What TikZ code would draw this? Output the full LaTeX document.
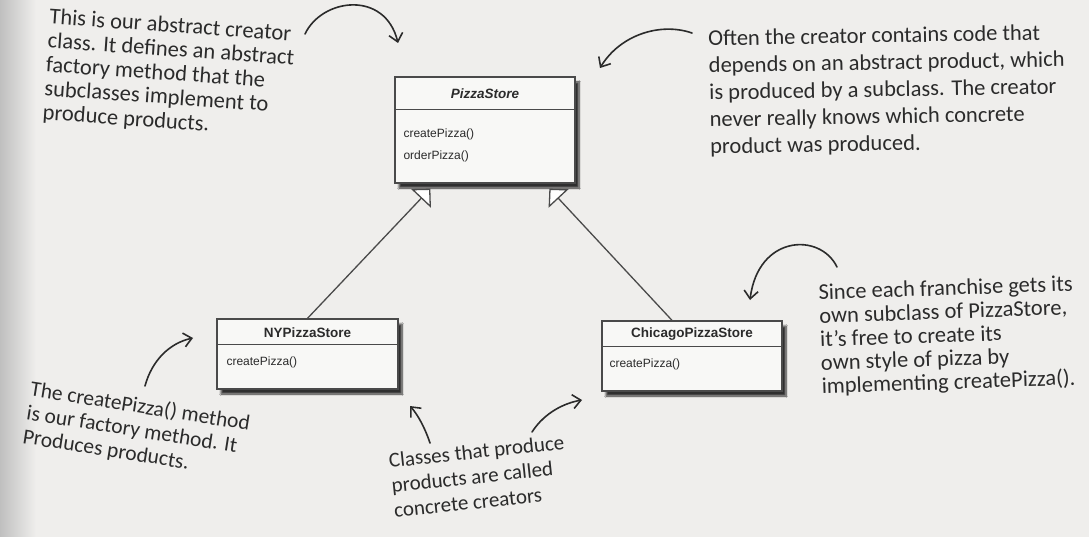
\documentclass[tikz,border=0pt]{standalone}
\usepackage{fontspec}
\setmainfont{Carlito}
\newfontfamily\umlfont{Liberation Sans}
\usetikzlibrary{arrows.meta,calc,shadows.blur}
\definecolor{bg}{HTML}{EFEEEC}
\definecolor{ink}{HTML}{2B2B2B}
\definecolor{boxfill}{HTML}{F8F8F6}
\definecolor{boxline}{HTML}{4A4A4A}
\begin{document}
\begin{tikzpicture}[x=1pt,y=-1pt,
  umlbox/.style={draw=boxline, line width=1.3pt, fill=boxfill, inner sep=0pt,
    blur shadow={shadow xshift=4pt,shadow yshift=-5pt,shadow blur steps=8,shadow opacity=80}},
  umltitle/.style={font=\umlfont\bfseries\fontsize{13.5}{16}\selectfont, text=ink, inner sep=0pt},
  umlmethod/.style={font=\umlfont\fontsize{12}{14}\selectfont, text=ink, inner sep=0pt, anchor=west},
  divider/.style={draw=boxline, line width=1.3pt},
  note/.style={text=ink, align=left, inner sep=0pt, anchor=north west},
  hand/.style={draw=ink, line width=1.6pt, line cap=round, -{Straight Barb[length=8pt,width=14pt]}},
  inherit/.style={draw=boxline, line width=1.3pt, -{Triangle[length=13.5pt,width=27pt,fill=white]}}
]
\fill[bg] (0,0) rectangle (1089,537);
\useasboundingbox (0,0) rectangle (1089,537);
\shade[left color=black!25, right color=bg] (0,0) rectangle (36,537);

% UML boxes
\node[umlbox, minimum width=180pt, minimum height=106pt] (ps) at (485,130) {};
\draw[divider] ($(ps.north west)+(0,33)$) -- ($(ps.north east)+(0,33)$);
\node[umltitle, font=\umlfont\bfseries\itshape\fontsize{13.5}{16}\selectfont] (pst) at ($(ps.north)+(0,17)$) {PizzaStore};
\node[umlmethod] (psm1) at ($(ps.north west)+(9,58)$) {createPizza()};
\node[umlmethod] (psm2) at ($(ps.north west)+(9,80)$) {orderPizza()};

\node[umlbox, minimum width=181pt, minimum height=70pt] (ny) at (307.5,354) {};
\draw[divider] ($(ny.north west)+(0,26)$) -- ($(ny.north east)+(0,26)$);
\node[umltitle] (nyt) at ($(ny.north)+(0,14)$) {NYPizzaStore};
\node[umlmethod] (nym) at ($(ny.north west)+(10,44)$) {createPizza()};

\node[umlbox, minimum width=180pt, minimum height=70pt] (ch) at (692,356) {};
\draw[divider] ($(ch.north west)+(0,26)$) -- ($(ch.north east)+(0,26)$);
\node[umltitle] (cht) at ($(ch.north)+(0,14)$) {ChicagoPizzaStore};
\node[umlmethod] (chm) at ($(ch.north west)+(8,44)$) {createPizza()};

% inheritance
\coordinate (psl) at ($(ps.south west)+(36,5)$);
\coordinate (psr) at ($(ps.south west)+(155,5)$);
\coordinate (chs) at ($(ch.north)+(-20,0)$);
\draw[inherit] (ny.north) -- (psl);
\draw[inherit] (chs) -- (psr);

% notes
\node[note, rotate=-4, font=\fontsize{22.5}{24}\selectfont] (n1) at (50,8)
  {This is our abstract creator\\class. It defines an abstract\\factory method that the\\subclasses implement to\\produce products.};
\node[note, rotate=1, font=\fontsize{22.5}{27}\selectfont] (n2) at (708,30)
  {Often the creator contains code that\\depends on an abstract product, which\\is produced by a subclass. The creator\\never really knows which concrete\\product was produced.};
\node[note, rotate=2, font=\fontsize{22.5}{23.5}\selectfont] (n3) at (818,284)
  {Since each franchise gets its\\own subclass of PizzaStore,\\it's free to create its\\own style of pizza by\\implementing createPizza().};
\node[note, rotate=-9, font=\fontsize{21.5}{24}\selectfont] (n4) at (32,380)
  {The createPizza() method\\is our factory method. It\\Produces products.};
\node[note, rotate=6, font=\fontsize{21}{25}\selectfont] (n5) at (388,453)
  {Classes that produce\\products are called\\concrete creators};

% hand-drawn arrows
\coordinate (a1s) at (305,34);  \coordinate (a1e) at (398,43);
\coordinate (a2s) at (692,33);  \coordinate (a2e) at (600,68);
\coordinate (a3s) at (837,267); \coordinate (a3e) at (750,300);
\coordinate (a4s) at (145,386); \coordinate (a4e) at (193,338);
\coordinate (a5s) at (430,443); \coordinate (a5e) at (410,406);
\coordinate (a6s) at (532,432); \coordinate (a6e) at (582,400);
\draw[hand] (a1s) .. controls (322,-2) and (385,-10) .. (a1e);
\draw[hand] (a2s) .. controls (660,22) and (620,35) .. (a2e);
\draw[hand] (a3s) .. controls (820,232) and (758,235) .. (a3e);
\draw[hand] (a4s) .. controls (152,360) and (170,343) .. (a4e);
\draw[hand] (a5s) .. controls (425,428) and (418,415) .. (a5e);
\draw[hand] (a6s) .. controls (545,412) and (565,403) .. (a6e);
\end{tikzpicture}
\end{document}
